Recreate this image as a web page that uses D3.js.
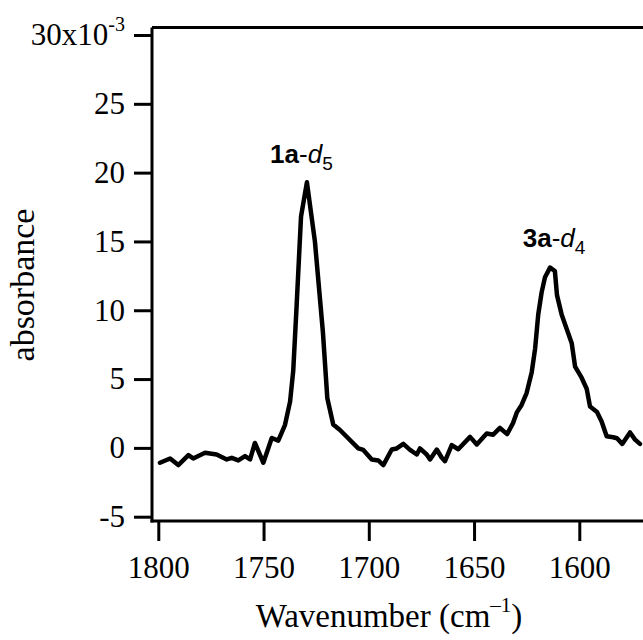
<!DOCTYPE html>
<html>
<head>
<meta charset="utf-8">
<script src="https://cdn.jsdelivr.net/npm/d3@7"></script>
<style>
  body { margin: 0; background: #fff; }
  svg { display: block; }
</style>
</head>
<body>
<div class="chart"></div>
<script>
// Set up the chart

var svgWidth = 643;
var svgHeight = 640;

// IR spectrum
var wavenumber = [
  1799.2, 1794.4, 1790.5, 1785.7, 1783.4, 1777.8, 1772.3, 1767.5, 1765.1, 1762.0,
  1758.8, 1756.4, 1754.1, 1750.1, 1746.1, 1743.0, 1739.8, 1737.4, 1735.9, 1734.3,
  1732.2, 1729.4, 1725.6, 1721.8, 1719.7, 1716.9, 1713.7, 1705.0, 1702.6, 1698.6,
  1695.5, 1693.1, 1689.1, 1686.7, 1683.6, 1680.4, 1677.2, 1675.7, 1672.5, 1670.9,
  1667.7, 1665.4, 1663.8, 1660.6, 1657.5, 1651.9, 1648.7, 1644.0, 1640.9, 1637.7,
  1634.3, 1631.5, 1629.6, 1627.4, 1625.0, 1622.6, 1621.0, 1619.5, 1617.9, 1616.3,
  1613.9, 1611.6, 1610.6, 1608.4, 1603.6, 1602.0, 1598.9, 1596.5, 1594.9, 1591.6,
  1589.4, 1587.0, 1583.9, 1582.1, 1579.6, 1575.9, 1573.5, 1571.2
];
var absorbance = [
  -1.08, -0.77, -1.25, -0.53, -0.77, -0.36, -0.48, -0.84, -0.72, -0.91,
  -0.60, -0.84, 0.36, -1.08, 0.72, 0.53, 1.68, 3.36, 5.6, 10.3,
  16.8, 19.3, 15.0, 8.4, 3.6, 1.7, 1.3, -0.04, -0.15, -0.84,
  -0.91, -1.25, -0.12, -0.04, 0.29, -0.15, -0.48, -0.04, -0.48, -0.84,
  -0.12, -0.70, -0.96, 0.20, -0.10, 0.80, 0.25, 1.05, 0.96, 1.45,
  1.00, 1.80, 2.60, 3.12, 4.00, 5.50, 7.20, 9.70, 11.3, 12.4,
  13.1, 12.85, 11.1, 9.7, 7.6, 5.9, 5.1, 4.3, 3.0, 2.6,
  1.92, 0.84, 0.77, 0.70, 0.29, 1.12, 0.60, 0.29
];

var xTicks = [1800, 1750, 1700, 1650, 1600];
var yTicks = [-5, 0, 5, 10, 15, 20, 25, 30];

var peakLabels = [
  { num: "1a", d: "5", wn: 1732.0, val: 20.7 },
  { num: "3a", d: "4", wn: 1612.0, val: 14.6 }
];

var spectrum = wavenumber.map((w, i) => ({ wn: w, a: absorbance[i] }));

var svg = d3
  .select(".chart")
  .append("svg")
  .attr("width", svgWidth)
  .attr("height", svgHeight);

var xScale = d3.scaleLinear()
  .domain([1800, 1600])
  .range([158.3, 579.3]);

var yScale = d3.scaleLinear()
  .domain([-5, 30])
  .range([516.7, 35]);

var serif = "'Liberation Serif', 'Times New Roman', serif";
var sans = "'Liberation Sans', Arial, sans-serif";

// axes (no domain path, frame drawn by hand)
var leftAxis = d3.axisLeft(yScale)
  .tickValues(yTicks)
  .tickSize(18)
  .tickPadding(9)
  .tickFormat(d => String(d));

var bottomAxis = d3.axisBottom(xScale)
  .tickValues(xTicks)
  .tickSize(20)
  .tickPadding(15)
  .tickFormat(d => String(d));

var yAxis = svg.append("g")
  .attr("transform", "translate(152, 0)")
  .call(leftAxis);

var xAxis = svg.append("g")
  .attr("transform", "translate(0, 521)")
  .call(bottomAxis);

[xAxis, yAxis].forEach(function (g) {
  g.select(".domain").remove();
  g.selectAll(".tick line")
    .attr("stroke", "#000")
    .attr("stroke-width", 3);
  g.selectAll(".tick text")
    .attr("fill", "#000")
    .style("font-family", serif)
    .style("font-size", "31px");
});

// 30x10^-3 on the top tick
yAxis.selectAll(".tick text")
  .filter(d => d === 30)
  .text("30x10")
  .append("tspan")
  .attr("dy", "-14px")
  .style("font-size", "20px")
  .text("-3");

// frame lines
var frame = svg.append("g")
  .attr("stroke", "#000")
  .attr("stroke-width", 3)
  .attr("fill", "none");

frame.append("line")
  .attr("x1", 152).attr("x2", 152)
  .attr("y1", 27.5).attr("y2", 522.5);

frame.append("line")
  .attr("x1", 150.5).attr("x2", svgWidth)
  .attr("y1", 521).attr("y2", 521);

frame.append("line")
  .attr("x1", 152).attr("x2", svgWidth)
  .attr("y1", 27.5).attr("y2", 27.5);

// spectrum line
var line = d3.line()
  .x(d => xScale(d.wn))
  .y(d => yScale(d.a));

svg.append("path")
  .datum(spectrum)
  .attr("d", line)
  .attr("fill", "none")
  .attr("stroke", "#000")
  .attr("stroke-width", 4.5)
  .attr("stroke-linejoin", "round")
  .attr("stroke-linecap", "round");

// peak labels
peakLabels.forEach(function (p) {
  var t = svg.append("text")
    .attr("x", xScale(p.wn))
    .attr("y", yScale(p.val))
    .attr("text-anchor", "middle")
    .style("font-family", sans)
    .style("font-size", "26px")
    .attr("fill", "#000");
  t.append("tspan").style("font-weight", "bold").text(p.num);
  t.append("tspan").text("-");
  t.append("tspan").style("font-style", "italic").text("d");
  t.append("tspan")
    .attr("dy", "7px")
    .style("font-size", "19px")
    .text(p.d);
});

// axis titles
var xTitle = svg.append("text")
  .attr("x", 389)
  .attr("y", 627)
  .attr("text-anchor", "middle")
  .style("font-family", serif)
  .style("font-size", "33px")
  .attr("fill", "#000");
xTitle.append("tspan").text("Wavenumber (cm");
xTitle.append("tspan")
  .attr("dy", "-15px")
  .style("font-size", "21px")
  .text("\u20131");
xTitle.append("tspan")
  .attr("dy", "15px")
  .text(")");

svg.append("text")
  .attr("transform", "translate(34, 285) rotate(-90)")
  .attr("text-anchor", "middle")
  .style("font-family", serif)
  .style("font-size", "34px")
  .attr("fill", "#000")
  .text("absorbance");
</script>
</body>
</html>
